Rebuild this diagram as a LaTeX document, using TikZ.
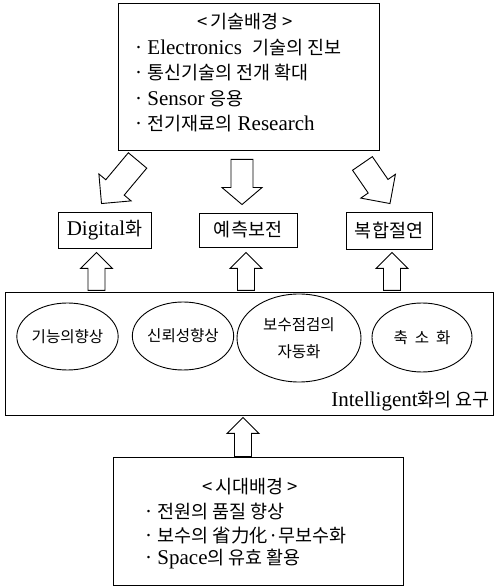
\documentclass[tikz,border=0pt]{standalone}
\usepackage{fontspec}
\setmainfont{Liberation Serif}
\newfontfamily\kr[Scale=0.88]{Noto Sans CJK KR}
\usetikzlibrary{calc, shapes.geometric}

\tikzset{
  boite/.style={draw, line width=0.9pt, inner sep=0pt, font=\fontsize{21}{25}\selectfont},
  bulle/.style={draw, ellipse, line width=0.9pt, inner sep=0pt, align=center, font=\kr\fontsize{17.7}{27}\selectfont},
  fleche/.style={draw, line width=0.9pt, fill=white, line join=miter},
  texte/.style={inner sep=0pt, font=\fontsize{21}{25}\selectfont}
}

% grosse fleche : queue, pointe, demi-corps, demi-tete, longueur de tete
\newcommand\grossefleche[5]{%
  \draw[fleche] let \p1=#1, \p2=#2,
      \n1={atan2(\y2-\y1,\x2-\x1)}, \n2={veclen(\x2-\x1,\y2-\y1)-#5} in
    ($(\p1)+({\n1+90}:#3)$) -- ($(\p1)+(\n1:\n2)+({\n1+90}:#3)$)
    -- ($(\p1)+(\n1:\n2)+({\n1+90}:#4)$) -- (\p2)
    -- ($(\p1)+(\n1:\n2)+({\n1-90}:#4)$) -- ($(\p1)+(\n1:\n2)+({\n1-90}:#3)$)
    -- ($(\p1)+({\n1-90}:#3)$) -- cycle;}

\begin{document}
\begin{tikzpicture}[x=1pt, y=1pt]
    \useasboundingbox (0,0) rectangle (495,587);

    % Contexte technique
    \node[boite, minimum width=261, minimum height=147] (tech) at (248.5,510.5) {};
    \node[texte, anchor=base] (techtitre) at (245,558) {\kr <\,기술배경\,>};
    \node[texte, anchor=base west] (tech1) at (135,532) {· Electronics\ \ {\kr 기술의\ 진보}};
    \node[texte, anchor=base west] (tech2) at (135,507) {· {\kr 통신기술의 전개 확대}};
    \node[texte, anchor=base west] (tech3) at (135,481) {· Sensor {\kr 응용}};
    \node[texte, anchor=base west] (tech4) at (135,456) {· {\kr 전기재료의} Research};

    % Trois directions
    \node[boite, minimum width=93, minimum height=36] (digital) at (104.5,357) {Digital{\kr 화}};
    \node[boite, minimum width=98, minimum height=34] (yecheuk) at (248,357) {\kr 예측보전};
    \node[boite, minimum width=86, minimum height=37] (bokhap) at (389,356.5) {\kr 복합절연};

    % Besoins
    \node[boite, minimum width=488, minimum height=123] (intel) at (249,233.5) {};
    \node[bulle, minimum width=91, minimum height=67] (gineung) at (67.5,250.5) {기능의향상};
    \node[bulle, minimum width=100, minimum height=68] (sinroe) at (183,251) {신뢰성향상};
    \node[bulle, minimum width=124, minimum height=88] (bosu) at (299,249) {보수점검의\\자동화};
    \node[bulle, minimum width=100, minimum height=69] (chukso) at (422,249.5) {축\ \ 소\ \ 화};
    \node[texte, anchor=base east] (inteltexte) at (490,180) {Intelligent{\kr 화의 요구}};

    % Contexte de l'epoque
    \node[boite, minimum width=290, minimum height=128] (sidae) at (258,66) {};
    \node[texte, anchor=base] (sidaetitre) at (250,93) {\kr <\,시대배경\,>};
    \node[texte, anchor=base west] (sidae1) at (145,68) {· {\kr 전원의 품질 향상}};
    \node[texte, anchor=base west] (sidae2) at (145,45) {· {\kr 보수의 省力化·무보수화}};
    \node[texte, anchor=base west] (sidae3) at (145,22) {· Space{\kr 의 유효 활용}};

    % Fleches
    \grossefleche{($(tech.south west)+(20,-10)$)}{($(digital.north)+(-3,8)$)}{12}{21}{21}
    \grossefleche{($(tech.south)+(-6.5,-9)$)}{($(yecheuk.north)+(-6,8)$)}{11}{20}{17}
    \grossefleche{($(tech.south east)+(-17,-13)$)}{($(bokhap.north)+(1,8)$)}{12}{21}{21}
    \grossefleche{($(digital.south)+(-8,-42)$)}{($(digital.south)+(-8,-4)$)}{8.5}{16}{16}
    \grossefleche{($(yecheuk.south)+(-2,-43)$)}{($(yecheuk.south)+(-2,-5)$)}{8.5}{16}{16}
    \grossefleche{($(bokhap.south)+(3,-41)$)}{($(bokhap.south)+(3,-3)$)}{8.5}{16}{16}
    \grossefleche{($(sidae.north)+(-15,0)$)}{($(intel.south)+(-6,-2)$)}{8.5}{16}{16}
\end{tikzpicture}
\end{document}
